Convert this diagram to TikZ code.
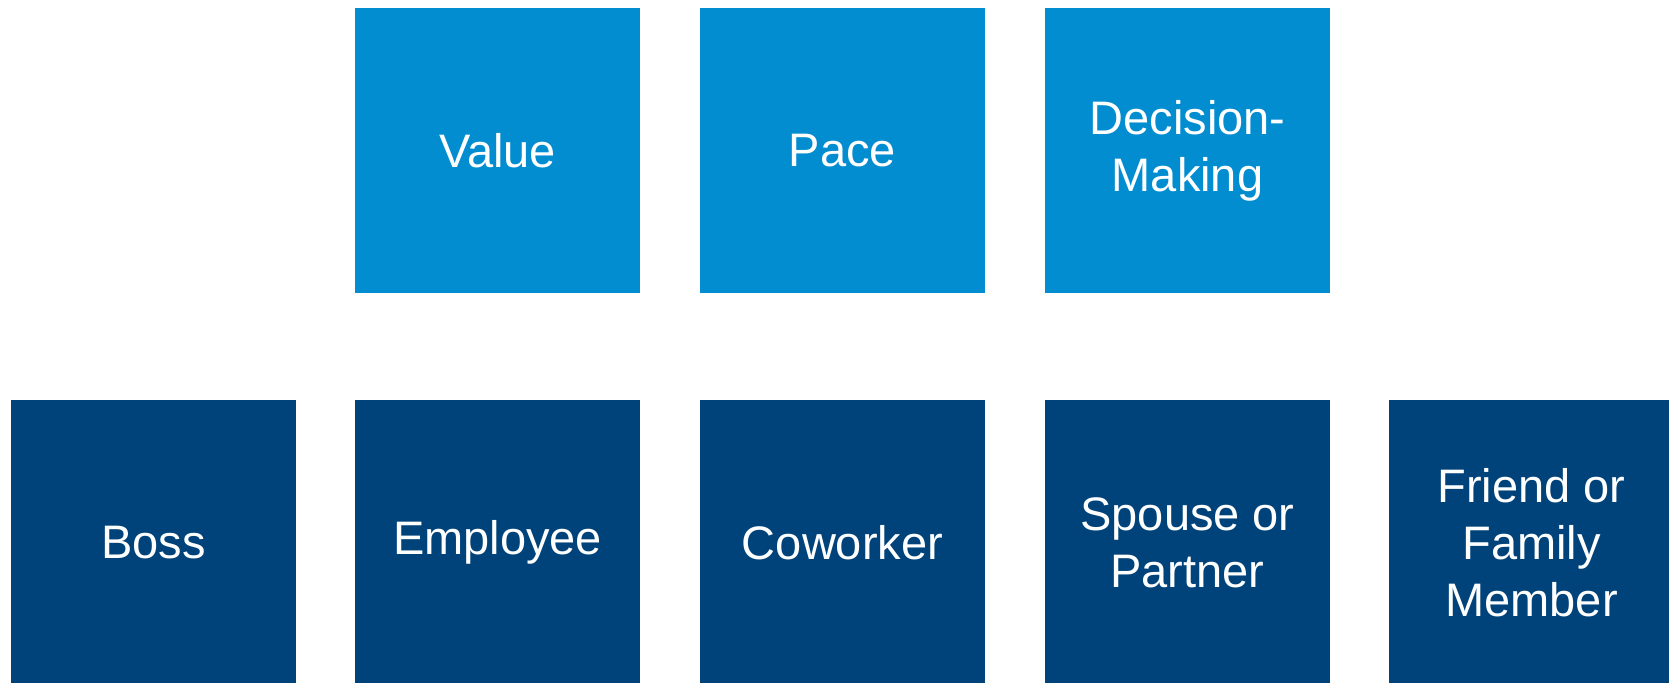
\documentclass[tikz,border=0pt]{standalone}
\usepackage{fontspec}
\setmainfont{Liberation Sans}
\usetikzlibrary{positioning}
\definecolor{lightblue}{HTML}{038DD1}
\definecolor{darkblue}{HTML}{00437A}

\begin{document}
\begin{tikzpicture}[
      x=0.5pt, y=-0.5pt,
      box/.style={minimum width=142.5pt, minimum height=142.5pt, inner sep=0pt, align=center, text=white, font=\fontsize{23.5}{28.5}\selectfont},
      topic/.style={box, fill=lightblue},
      person/.style={box, fill=darkblue}
    ]
    \useasboundingbox (0,0) rectangle (1669,683);

    \node[topic] (value)    at (497.5,150.5)  {Value};
    \node[topic] (pace)     at (842.5,150.5)  {Pace};
    \node[topic] (decision) at (1187.5,150.5) {Decision-\\Making};

    \node[person] (boss)     at (153.5,542.5)  {Boss};
    \node[person] (employee) at (497.5,542.5)  {Employee};
    \node[person] (coworker) at (842.5,542.5)  {Coworker};
    \node[person] (spouse)   at (1187.5,542.5) {Spouse or\\Partner};
    \node[person] (friend)   at (1531.5,542.5) {Friend or\\Family\\Member};
  \end{tikzpicture}
\end{document}
